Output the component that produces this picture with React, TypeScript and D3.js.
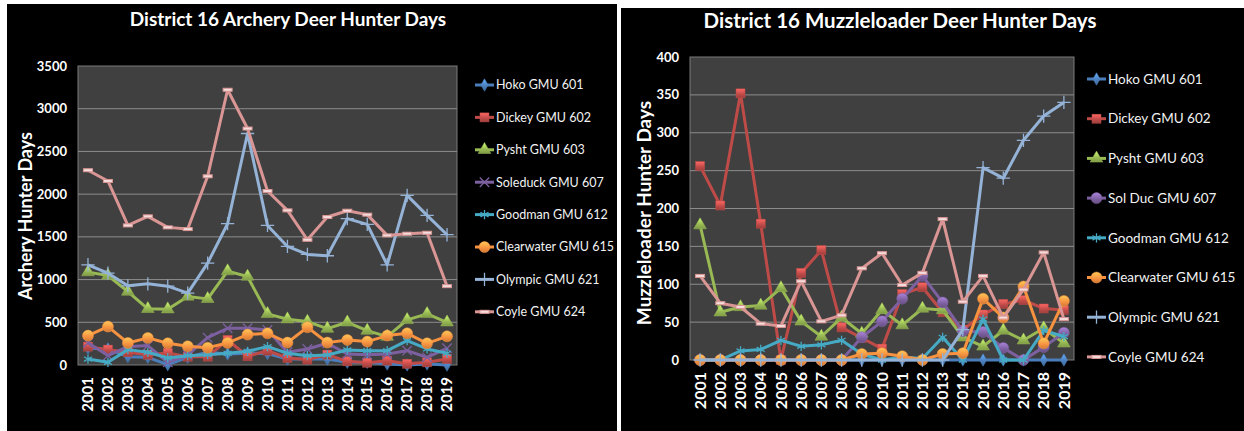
import React from 'react'
import * as d3 from 'd3'

const years = ['2001', '2002', '2003', '2004', '2005', '2006', '2007', '2008', '2009', '2010',
  '2011', '2012', '2013', '2014', '2015', '2016', '2017', '2018', '2019']

// archery hunter days
const archHoko = [196, 188, 98, 90, 4, 90, 149, 129, 137, 135, 70, 70, 70, 31, 31, 12, 0, 12, 0]
const archDickey = [215, 180, 149, 121, 141, 98, 98, 293, 102, 168, 82, 63, 121, 43, 27, 51, 15, 31, 70]
const archPysht = [1087, 1048, 860, 657, 653, 802, 774, 1099, 1036, 598, 536, 508, 426, 500, 403, 332, 528, 598, 500]
const archSoleduck = [260, 110, 215, 227, 31, 120, 320, 430, 430, 410, 149, 188, 254, 129, 121, 129, 168, 90, 196]
const archGoodman = [70, 31, 180, 149, 82, 109, 121, 137, 160, 215, 137, 109, 117, 176, 168, 168, 285, 188, 137]
const archClearwater = [344, 450, 258, 317, 254, 219, 203, 258, 356, 371, 262, 442, 262, 293, 274, 344, 371, 254, 336]
const archOlympic = [1173, 1075, 927, 950, 923, 841, 1193, 1654, 2710, 1634, 1388, 1294, 1279, 1713, 1646, 1173, 1986, 1752, 1525]
const archCoyle = [2280, 2154, 1634, 1740, 1611, 1591, 2209, 3222, 2768, 2037, 1810, 1466, 1732, 1806, 1760, 1517, 1537, 1548, 923]

// muzzleloader hunter days
const muzHoko = [0, 0, 0, 0, 0, 0, 0, 0, 0, 0, 0, 0, 0, 0, 0, 0, 0, 0, 0]
const muzDickey = [256, 204, 352, 180, 0, 115, 145, 43, 29, 15, 87, 96, 63, 40, 60, 74, 79, 68, 66]
const muzPysht = [178, 63, 70, 72, 95, 51, 31, 56, 35, 66, 46, 68, 66, 30, 18, 39, 26, 42, 22]
const muzSolDuc = [0, 0, 0, 0, 0, 0, 0, 0, 30, 51, 81, 111, 76, 38, 37, 16, 0, 17, 36]
const muzGoodman = [0, 0, 12, 14, 26, 18, 20, 26, 8, 0, 4, 2, 30, 0, 54, 0, 0, 39, 31]
const muzClearwater = [0, 0, 0, 0, 0, 0, 0, 0, 8, 9, 5, 0, 8, 9, 81, 56, 97, 22, 78]
const muzOlympic = [0, 0, 0, 0, 0, 0, 0, 0, 0, 0, 0, 0, 0, 40, 254, 240, 290, 322, 340]
const muzCoyle = [111, 75, 70, 48, 45, 104, 51, 59, 121, 141, 99, 115, 186, 77, 111, 56, 93, 142, 54]

const archNames = ['Hoko GMU 601', 'Dickey GMU 602', 'Pysht GMU 603', 'Soleduck GMU 607',
  'Goodman GMU 612', 'Clearwater GMU 615', 'Olympic GMU 621', 'Coyle GMU 624']
const muzNames = ['Hoko GMU 601', 'Dickey GMU 602', 'Pysht GMU 603', 'Sol Duc GMU 607',
  'Goodman GMU 612', 'Clearwater GMU 615', 'Olympic GMU 621', 'Coyle GMU 624']

const archTicks = [0, 500, 1000, 1500, 2000, 2500, 3000, 3500]
const muzTicks = [0, 50, 100, 150, 200, 250, 300, 350, 400]

const colors = ['#4a7ebb', '#be4b48', '#98b954', '#7d60a0', '#46aac5', '#f69240', '#95b3d7', '#d99694']
const archMarkers = ['diamond', 'square', 'triangle', 'x', 'star', 'circle', 'plus', 'dash']
const muzMarkers = ['diamond', 'square', 'triangle', 'circle', 'star', 'circle', 'plus', 'dash']

const FONT = 'Lato, "Open Sans", sans-serif'

function Marker({ type, x, y, color, gid }) {
  let fill = 'url(#' + gid + ')'
  if (type === 'circle') return <circle cx={x} cy={y} r={5.5} fill={fill} stroke={color} strokeWidth={0.5} />
  if (type === 'square') return <rect x={x - 4.5} y={y - 4.5} width={9} height={9} fill={fill} stroke={color} strokeWidth={0.5} />
  if (type === 'dash') return <rect x={x - 4.5} y={y - 1.5} width={9} height={3} fill='#f4dcdc' stroke={color} strokeWidth={1} />
  let sym = {
    diamond: d3.symbolDiamond,
    triangle: d3.symbolTriangle,
    x: d3.symbolTimes || d3.symbolX,
    star: d3.symbolAsterisk,
    plus: d3.symbolPlus,
  }[type]
  let size = type === 'triangle' ? 70 : type === 'diamond' ? 45 : 60
  let path = d3.symbol(sym, size)()
  let stroked = type === 'x' || type === 'star' || type === 'plus'
  return (
    <path d={path} transform={'translate(' + x + ',' + y + ')'}
      fill={stroked ? 'none' : fill} stroke={color}
      strokeWidth={stroked ? 1.3 : 0.5} />
  )
}

function Chart(props) {
  let { id, px, py, pw, ph, box, title, titleX, titleY, titleSize, yTitle, yTitleX, yTitleY, yTitleSize,
    series, names, markers, ticks, tickSize, yearSize, legX, legY, legStep, legSize } = props

  let x = d3.scalePoint().domain(years).range([px, px + pw]).padding(0.5)
  let y = d3.scaleLinear().domain([0, ticks[ticks.length - 1]]).range([py + ph, py])
  let line = d3.line().x((d, i) => x(years[i])).y(d => y(d))

  return (
    <g>
      <defs>
        {colors.map((c, i) => (
          <linearGradient key={i} id={id + 'g' + i} x1='0' y1='0' x2='0' y2='1'>
            <stop offset='0%' stopColor={d3.color(c).brighter(0.9).formatHex()} />
            <stop offset='60%' stopColor={c} />
            <stop offset='100%' stopColor={d3.color(c).darker(0.5).formatHex()} />
          </linearGradient>
        ))}
      </defs>
      <rect x={box[0]} y={box[1]} width={box[2]} height={box[3]} fill='#000' />
      <text x={titleX} y={titleY} fill='#fff' fontFamily={FONT} fontWeight='bold' fontSize={titleSize}
        textAnchor='middle'>{title}</text>
      <rect x={px} y={py} width={pw} height={ph} fill='#404040' stroke='#7a7a7a' strokeWidth={1} />
      {ticks.map(t => (
        <g key={t}>
          {t > 0 && t < ticks[ticks.length - 1] &&
            <line x1={px} x2={px + pw} y1={y(t)} y2={y(t)} stroke='#8c8c8c' strokeWidth={1} />}
          <text x={px - 11} y={y(t)} dy='0.35em' fill='#fff' fontFamily={FONT} fontWeight='bold'
            fontSize={tickSize} textAnchor='end'>{t}</text>
        </g>
      ))}
      {years.map(yr => (
        <text key={yr} transform={'translate(' + x(yr) + ',' + (py + ph + 12) + ') rotate(-90)'}
          dy='0.35em' fill='#fff' fontFamily={FONT} fontWeight='bold' fontSize={yearSize}
          textAnchor='end'>{yr}</text>
      ))}
      <text transform={'translate(' + yTitleX + ',' + yTitleY + ') rotate(-90)'} dy='0.35em' fill='#fff'
        fontFamily={FONT} fontWeight='bold' fontSize={yTitleSize} textAnchor='middle'>{yTitle}</text>
      {series.map((s, i) => (
        <g key={i}>
          <path d={line(s)} fill='none' stroke={colors[i]} strokeWidth={3} strokeLinejoin='round' />
          {s.map((v, j) => (
            <Marker key={j} type={markers[i]} x={x(years[j])} y={y(v)} color={colors[i]} gid={id + 'g' + i} />
          ))}
        </g>
      ))}
      {names.map((n, i) => {
        let ly = legY + i * legStep
        return (
          <g key={n}>
            <line x1={legX} x2={legX + 19} y1={ly} y2={ly} stroke={colors[i]} strokeWidth={3} />
            <Marker type={markers[i]} x={legX + 9.5} y={ly} color={colors[i]} gid={id + 'g' + i} />
            <text x={legX + 21} y={ly} dy='0.35em' fill='#f2f2f2' fontFamily={FONT} fontSize={legSize}>{n}</text>
          </g>
        )
      })}
    </g>
  )
}

export default function App() {
  let archSeries = [archHoko, archDickey, archPysht, archSoleduck, archGoodman, archClearwater, archOlympic, archCoyle]
  let muzSeries = [muzHoko, muzDickey, muzPysht, muzSolDuc, muzGoodman, muzClearwater, muzOlympic, muzCoyle]
  return (
    <div style={{ position: 'absolute', left: 0, top: 0 }}>
      <svg width={1244} height={431} style={{ display: 'block' }}>
        <rect width={1244} height={431} fill='#fff' />
        <Chart id='a' box={[7, 4, 610, 427]} px={78} py={66} pw={379} ph={299}
          title='District 16 Archery Deer Hunter Days' titleX={288} titleY={26} titleSize={19}
          yTitle='Archery Hunter Days' yTitleX={26} yTitleY={216} yTitleSize={18}
          series={archSeries} names={archNames} markers={archMarkers} ticks={archTicks}
          tickSize={13} yearSize={15} legX={475} legY={85} legStep={32.4} legSize={12.5} />
        <Chart id='m' box={[621, 8, 623, 423]} px={690} py={57} pw={384} ph={303}
          title='District 16 Muzzleloader Deer Hunter Days' titleX={900} titleY={28} titleSize={20.5}
          yTitle='Muzzleloader Hunter Days' yTitleX={644} yTitleY={213} yTitleSize={19}
          series={muzSeries} names={muzNames} markers={muzMarkers} ticks={muzTicks}
          tickSize={13} yearSize={16} legX={1087} legY={79} legStep={39.7} legSize={13.5} />
      </svg>
    </div>
  )
}
